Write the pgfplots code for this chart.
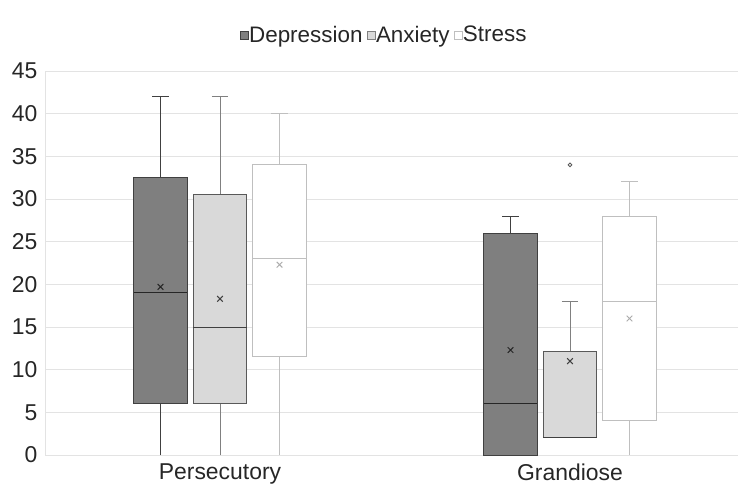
\documentclass[border=0pt]{standalone}
\usepackage{fontspec}
\setmainfont{Liberation Sans}
\usepackage{pgfplots}
\usepgfplotslibrary{statistics}
\pgfplotsset{compat=1.18}

\definecolor{depfill}{HTML}{7F7F7F}
\definecolor{depline}{HTML}{404040}
\definecolor{anxfill}{HTML}{D9D9D9}
\definecolor{anxline}{HTML}{595959}
\definecolor{anxwhisk}{HTML}{808080}
\definecolor{strline}{HTML}{BFBFBF}
\definecolor{gridc}{HTML}{E3E3E3}

% lower whisker without a cap (the caps sit on the zero line in the original)
\pgfplotsset{
    /pgfplots/boxplot/draw/lower whisker/.code={%
        \draw[/pgfplots/boxplot/every whisker/.try]
            (boxplot cs:\pgfplotsboxplotvalue{lower whisker})
            -- (boxplot cs:\pgfplotsboxplotvalue{lower quartile});
    },
}

\begin{document}
\begin{tikzpicture}
\path[use as bounding box] (-45bp,-31bp) rectangle (693bp,455bp);
\begin{axis}[
    scale only axis,
    width=693bp, height=384bp,
    xmin=0.5, xmax=2.48,
    ymin=0, ymax=45,
    ytick={0,5,...,45},
    xtick={1,2},
    xticklabels={Persecutory,Grandiose},
    major tick length=0pt,
    ymajorgrids=true,
    major grid style={gridc, line width=1bp},
    axis lines*=left,
    axis line style={gridc, line width=1bp},
    tick label style={font=\fontsize{23}{26}\selectfont, black!85},
    yticklabel style={xshift=-4bp},
    xticklabel style={yshift=-5bp},
    /pgf/number format/assume math mode=true,
    legend style={at={(axis description cs:0.49,1.094)}, anchor=center,
        draw=none, fill=none, font=\fontsize{22.5}{25}\selectfont,
        legend columns=3,
        /tikz/every even column/.append style={column sep=3bp}},
    legend cell align=left,
    boxplot/draw direction=y,
    boxplot/box extend=0.152,
    boxplot/whisker extend=0.047,
]
% legend swatches
\addlegendimage{only marks, mark=square*, mark size=4bp, mark options={fill=depfill, draw=depline}}
\addlegendentry[text=black!85]{\hspace{-1.5bp}Depression}
\addlegendimage{only marks, mark=square*, mark size=4bp, mark options={fill=anxfill, draw=anxwhisk}}
\addlegendentry[text=black!85]{\hspace{-1.5bp}Anxiety}
\addlegendimage{only marks, mark=square*, mark size=4bp, mark options={fill=white, draw=strline}}
\addlegendentry[text=black!85]{\hspace{-1.5bp}Stress}

% Persecutory
\addplot[forget plot, draw=depline, fill=depfill, line width=1bp,
    boxplot/every median/.style={draw=black!85, line width=1bp},
    boxplot prepared={draw position=0.83, lower whisker=0, lower quartile=6,
        median=19, upper quartile=32.5, upper whisker=42}] coordinates {};
\addplot[forget plot, draw=anxline, fill=anxfill, line width=1bp,
    boxplot/every whisker/.style={draw=anxwhisk},
    boxplot/every median/.style={draw=depline, line width=1bp},
    boxplot prepared={draw position=1.0, lower whisker=0, lower quartile=6,
        median=15, upper quartile=30.5, upper whisker=42}] coordinates {};
\addplot[forget plot, draw=strline, fill=white, line width=1bp,
    boxplot prepared={draw position=1.17, lower whisker=0, lower quartile=11.6,
        median=23, upper quartile=34, upper whisker=40}] coordinates {};

% Grandiose
\addplot[forget plot, draw=depline, fill=depfill, line width=1bp,
    boxplot/every median/.style={draw=black!85, line width=1bp},
    boxplot prepared={draw position=1.83, lower whisker=0, lower quartile=0,
        median=6, upper quartile=26, upper whisker=28}] coordinates {};
\addplot[forget plot, draw=anxline, fill=anxfill, line width=1bp,
    boxplot/every whisker/.style={draw=anxwhisk},
    boxplot/every median/.style={draw=depline, line width=1bp},
    boxplot prepared={draw position=2.0, lower whisker=2, lower quartile=2,
        median=2, upper quartile=12.1, upper whisker=18}] coordinates {};
\addplot[forget plot, draw=strline, fill=white, line width=1bp,
    boxplot prepared={draw position=2.17, lower whisker=0, lower quartile=4,
        median=18, upper quartile=28, upper whisker=32}] coordinates {};

% means
\addplot[forget plot, only marks, mark=x, mark size=4bp, black!85, line width=1bp]
    coordinates {(0.83,19.7) (1.83,12.3)};
\addplot[forget plot, only marks, mark=x, mark size=4bp, depline, line width=1bp]
    coordinates {(1.0,18.3) (2.0,11.0)};
\addplot[forget plot, only marks, mark=x, mark size=4bp, strline!90!black, line width=1bp]
    coordinates {(1.17,22.3) (2.17,16.0)};

% outlier
\addplot[forget plot, only marks, mark=o, mark size=1.8bp, anxline, line width=0.9bp]
    coordinates {(2.0,34)};
\end{axis}
\end{tikzpicture}
\end{document}
